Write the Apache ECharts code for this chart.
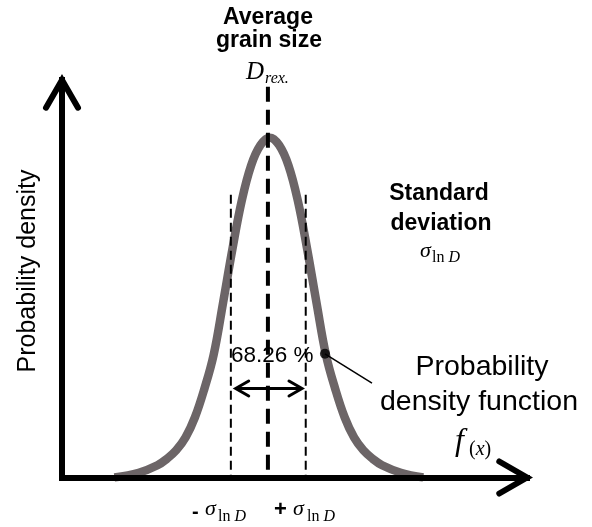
<!DOCTYPE html>
<html><head><meta charset="utf-8">
<script src="https://cdn.jsdelivr.net/npm/echarts@6/dist/echarts.min.js"></script>
<style>html,body{margin:0;padding:0;background:#fff}#c{width:592px;height:527px}</style>
</head><body><div id="c"></div>
<script>
// ---- data (x in units of sigma around the mean, y relative to peak density) ----
const curveX = [-4.10,-3.45,-2.95,-2.70,-2.45,-2.20,-1.95,-1.70,-1.45,-1.20,-0.95,-0.70,-0.45,-0.20,0.05,0.30,0.55,0.80,1.05,1.30,1.55,1.80,2.05,2.30,2.55,2.80,3.05,3.55,4.15];
const curveY = [0.0,0.014,0.036,0.055,0.080,0.118,0.177,0.260,0.361,0.513,0.671,0.814,0.918,0.978,1.0,0.978,0.918,0.814,0.671,0.513,0.361,0.260,0.177,0.118,0.080,0.055,0.036,0.014,0.0];
const meanX = 0;
const meanLineY = [1.15, 0];
const sigmaMinusX = -0.99;
const sigmaPlusX = 1.01;
const sigmaLineY = [0.832, 0];
const spanArrowX = [-0.86, 0.91];
const spanArrowY = 0.262;
const pdfDot = [1.523, 0.364];
const pdfLeaderEnd = [2.78, 0.278];
const xRange = [-5.5, 6.92];
const yRange = [0, 1.17];

const sans = "'Liberation Sans', Arial, sans-serif";
const serif = "'Liberation Serif', 'Times New Roman', serif";

const chart = echarts.init(document.getElementById('c'), null, {renderer: 'canvas'});

function chevronSeries(points, armLen, width) {
  return {
    type: 'custom', clip: false, z: 5, silent: true,
    data: points,
    renderItem: function (params, api) {
      const p = api.coord([api.value(0), api.value(1)]);
      const a = api.value(2) * Math.PI / 180;
      const s = 30 * Math.PI / 180;
      const arm = function (d) {
        const ang = a + Math.PI + d;
        return [p[0] + armLen * Math.cos(ang), p[1] - armLen * Math.sin(ang)];
      };
      return {type: 'polyline', shape: {points: [arm(s), p, arm(-s)]},
        style: {stroke: '#000', lineWidth: width, fill: null, lineCap: 'round', lineJoin: 'miter'}};
    }
  };
}

function T(text, x, y, size, o) {
  o = o || {};
  return {type: 'text', x: x, y: y, rotation: o.rot || 0, z: 10,
    style: {text: text, fontSize: size, fontFamily: o.ff || sans, fontWeight: o.fw || 'normal',
      fontStyle: o.fs || 'normal', fill: '#000', align: o.align || 'left', verticalAlign: 'middle',
      rich: o.rich}};
}
const subRich = {
  r: {fontSize: 16, fontFamily: serif, fontStyle: 'normal', fill: '#000'},
  i: {fontSize: 16, fontFamily: serif, fontStyle: 'italic', fill: '#000'}
};
const fxRich = {
  r: {fontSize: 20, fontFamily: serif, fontStyle: 'normal', fill: '#000'},
  i: {fontSize: 20, fontFamily: serif, fontStyle: 'italic', fill: '#000'}
};

const option = {
  animation: false,
  backgroundColor: '#fff',
  grid: {left: 62, right: 65, top: 80, bottom: 49.5, z: 1},
  xAxis: {type: 'value', min: xRange[0], max: xRange[1], z: 1,
    axisLine: {show: true, onZero: false, lineStyle: {color: '#000', width: 6, cap: 'square'}},
    axisTick: {show: false}, axisLabel: {show: false}, splitLine: {show: false}},
  yAxis: {type: 'value', min: yRange[0], max: yRange[1], z: 1,
    axisLine: {show: true, onZero: false, lineStyle: {color: '#000', width: 6, cap: 'square'}},
    axisTick: {show: false}, axisLabel: {show: false}, splitLine: {show: false}},
  series: [
    {type: 'line', data: curveX.map((x, i) => [x, curveY[i]]), smooth: 0.4, showSymbol: false,
      lineStyle: {color: '#6c6567', width: 8.5}, z: 0, silent: true},
    {type: 'line', data: meanLineY.map(y => [meanX, y]), showSymbol: false, z: 3,
      lineStyle: {color: '#000', width: 4, type: [15, 8]}},
    {type: 'line', data: sigmaLineY.map(y => [sigmaMinusX, y]), showSymbol: false, z: 3,
      lineStyle: {color: '#000', width: 2, type: [9, 5]}},
    {type: 'line', data: sigmaLineY.map(y => [sigmaPlusX, y]), showSymbol: false, z: 3,
      lineStyle: {color: '#000', width: 2, type: [9, 5]}},
    {type: 'line', data: spanArrowX.map(x => [x, spanArrowY]), showSymbol: false, z: 4,
      lineStyle: {color: '#000', width: 3}},
    {type: 'line', data: [pdfDot, pdfLeaderEnd], showSymbol: false, z: 4,
      lineStyle: {color: '#000', width: 1.5}},
    {type: 'scatter', data: [pdfDot], symbolSize: 10, itemStyle: {color: '#000'}, z: 5},
    chevronSeries([[xRange[1], 0, 0], [xRange[0], yRange[1], 90]], 32, 6),
    chevronSeries([[spanArrowX[0], spanArrowY, 180], [spanArrowX[1], spanArrowY, 0]], 15, 3)
  ],
  graphic: [
    T('Average', 268, 18, 23, {fw: 'bold', align: 'center'}),
    T('grain size', 269, 41, 23, {fw: 'bold', align: 'center'}),
    T('D', 246, 72, 25, {ff: serif, fs: 'italic'}),
    T('rex.', 265, 79, 16, {ff: serif, fs: 'italic'}),
    T('Standard', 439, 194, 23, {fw: 'bold', align: 'center'}),
    T('deviation', 441, 224, 23, {fw: 'bold', align: 'center'}),
    T('σ', 420, 251.6, 22, {ff: serif, fs: 'italic'}),
    T('{r|ln }{i|D}', 432, 257.6, 16, {ff: serif, rich: subRich}),
    T('Probability density', 28, 271, 25, {align: 'center', rot: Math.PI / 2}),
    T('68.26 %', 231, 356, 22.5),
    T('Probability', 482, 367, 28.5, {align: 'center'}),
    T('density function', 479, 402, 28.5, {align: 'center'}),
    T('f', 455, 442, 32, {ff: serif, fs: 'italic'}),
    T('{r|(}{i|x}{r|)}', 469, 450, 20, {ff: serif, rich: fxRich}),
    T('-', 192, 512, 20, {fw: 'bold'}),
    T('σ', 205, 509.6, 22, {ff: serif, fs: 'italic'}),
    T('{r|ln }{i|D}', 218, 516.6, 16, {ff: serif, rich: subRich}),
    T('+', 274, 510, 22, {fw: 'bold'}),
    T('σ', 293, 509.6, 22, {ff: serif, fs: 'italic'}),
    T('{r|ln }{i|D}', 307, 516.6, 16, {ff: serif, rich: subRich})
  ]
};
chart.setOption(option);
</script>
</body></html>
